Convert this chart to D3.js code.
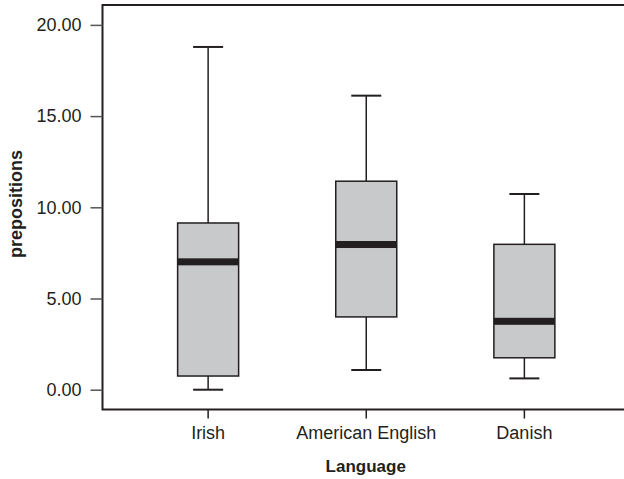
<!DOCTYPE html>
<html>
<head>
<meta charset="utf-8">
<script src="https://cdn.jsdelivr.net/npm/d3@7/dist/d3.min.js"></script>
<style>
  body { margin: 0; background: #fff; }
  text { font-family: "Liberation Sans", Arial, sans-serif; fill: #231f20; }
</style>
</head>
<body>
<div id="chart-area"></div>
<script>
// box plot values
var languages = ["Irish", "American English", "Danish"];
var whiskerLow  = [0.00, 1.08, 0.62];
var boxLow      = [0.75, 3.99, 1.75];
var medians     = [7.01, 7.96, 3.75];
var boxHigh     = [9.14, 11.43, 7.97];
var whiskerHigh = [18.79, 16.12, 10.73];
var yTicks = [0, 5, 10, 15, 20];

var width = 624, height = 479;
var margin = {top: 5, right: -6, bottom: 69, left: 102.5};

var svg = d3.select("#chart-area")
    .append("svg")
        .attr("width", width)
        .attr("height", height);

var y = d3.scaleLinear()
    .domain([-1.085, 21.09])
    .range([height - margin.bottom - 0.5, margin.top]);

var x = d3.scaleBand()
    .domain(languages)
    .range([margin.left, width - margin.right])
    .paddingInner(0)
    .paddingOuter(0.168);

var boxW = 61, capW = 30;
var ink = "#231f20";

// frame (right side runs off the picture)
svg.append("rect")
    .attr("x", margin.left)
    .attr("y", margin.top)
    .attr("width", width - margin.right - margin.left)
    .attr("height", y.range()[0] - margin.top)
    .attr("fill", "none")
    .attr("stroke", ink)
    .attr("stroke-width", 2);

var leftAxis = d3.axisLeft(y)
    .tickValues(yTicks)
    .tickFormat(d3.format(".2f"))
    .tickSize(12)
    .tickPadding(9);

var gy = svg.append("g")
    .attr("transform", "translate(" + margin.left + ",0)")
    .call(leftAxis);
gy.select(".domain").remove();
gy.selectAll(".tick line").attr("stroke", "#555").attr("stroke-width", 1.5);
gy.selectAll(".tick text").attr("font-size", "18px").attr("fill", ink);

var bottomAxis = d3.axisBottom(x).tickSize(9).tickPadding(8);
var gx = svg.append("g")
    .attr("transform", "translate(0," + y.range()[0] + ")")
    .call(bottomAxis);
gx.select(".domain").remove();
gx.selectAll(".tick line").attr("stroke", ink).attr("stroke-width", 1.5);
gx.selectAll(".tick text").attr("font-size", "18px").attr("fill", ink);

// axis titles
svg.append("text")
    .attr("x", (margin.left + 630) / 2 - 0.5)
    .attr("y", 472)
    .attr("text-anchor", "middle")
    .attr("font-size", "17px")
    .attr("font-weight", "bold")
    .text("Language");

svg.append("text")
    .attr("transform", "translate(21.5," + 204 + ") rotate(-90)")
    .attr("text-anchor", "middle")
    .attr("font-size", "18px")
    .attr("font-weight", "bold")
    .text("prepositions");

var boxes = svg.selectAll(".box")
    .data(languages)
    .enter().append("g")
        .attr("class", "box")
        .attr("transform", function(d) { return "translate(" + (x(d) + x.bandwidth() / 2) + ",0)"; });

// whisker stems
boxes.append("line")
    .attr("y1", function(d, i) { return y(whiskerHigh[i]); })
    .attr("y2", function(d, i) { return y(whiskerLow[i]); })
    .attr("stroke", ink)
    .attr("stroke-width", 1.5);

// caps
[whiskerHigh, whiskerLow].forEach(function(arr) {
    boxes.append("line")
        .attr("x1", -capW / 2)
        .attr("x2", capW / 2)
        .attr("y1", function(d, i) { return y(arr[i]); })
        .attr("y2", function(d, i) { return y(arr[i]); })
        .attr("stroke", ink)
        .attr("stroke-width", 2);
});

boxes.append("rect")
    .attr("x", -boxW / 2)
    .attr("width", boxW)
    .attr("y", function(d, i) { return y(boxHigh[i]); })
    .attr("height", function(d, i) { return y(boxLow[i]) - y(boxHigh[i]); })
    .attr("fill", "#c8c9cb")
    .attr("stroke", ink)
    .attr("stroke-width", 1.5);

boxes.append("rect")
    .attr("x", -boxW / 2)
    .attr("width", boxW)
    .attr("y", function(d, i) { return y(medians[i]) - 3.5; })
    .attr("height", 7)
    .attr("fill", ink);
</script>
</body>
</html>
